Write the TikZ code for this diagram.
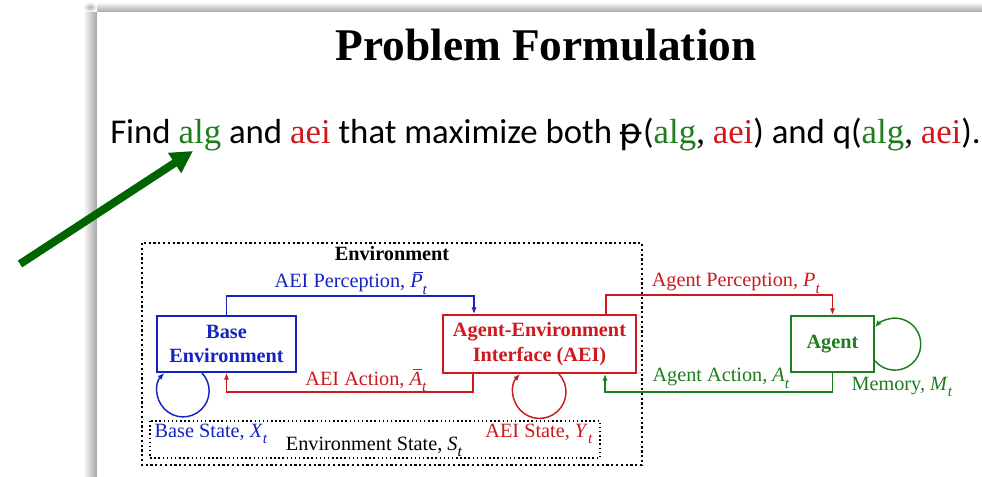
\documentclass[tikz,border=0pt]{standalone}
\usepackage{amsmath}
\usepackage{fontspec}
\setmainfont{Liberation Serif}
\newfontfamily\carlito{Carlito}
\newfontfamily\dejavu{DejaVu Sans}
\usetikzlibrary{arrows.meta,calc}
\definecolor{cblue}{RGB}{20,36,192}
\definecolor{cred}{RGB}{205,25,30}
\definecolor{cgreen}{RGB}{30,125,30}
\definecolor{dgreen}{RGB}{0,100,0}
\newcommand\mv[1]{\textit{#1}}
\newcommand\sbt{\raisebox{-0.3em}{\fontsize{11.5pt}{11.5pt}\selectfont\textit{t}}}
\newcommand\barit[1]{\mbox{\ooalign{\textit{#1}\cr\hidewidth\kern0.18em\rule[0.74em]{0.42em}{0.05em}\hidewidth\cr}}}
\begin{document}
\begin{tikzpicture}[x=0.75pt,y=-0.75pt,
  dfont/.style={font=\fontsize{15.2pt}{18.5pt}\selectfont},
  boxnode/.style={draw, line width=1.5pt, align=center, inner sep=0pt, font=\fontsize{15.2pt}{18.5pt}\selectfont\bfseries},
  conn/.style={line width=1.1pt, -{Latex[length=5pt,width=4pt]}},
  lbl/.style={dfont, anchor=base, inner sep=0pt},
  envbox/.style={dotted, line width=1.6pt},
  statebox/.style={dotted, line width=1.1pt}
]
\useasboundingbox (0,0) rectangle (982,477);
% slide shadow
\shade[left color=white, right color=gray!70] (83,12) rectangle (97,477);
\shade[top color=white, bottom color=gray!70] (97,2) rectangle (982,12);
\shade[inner color=gray!60, outer color=white] (83,2) rectangle (97,12);
\fill[white] (97,12) rectangle (982,477);

% title
\node[anchor=base, inner sep=0pt, font=\fontsize{34pt}{40pt}\selectfont\bfseries] (title) at (546,61) {Problem Formulation};
\node[anchor=base west, inner sep=0pt, font=\carlito\fontsize{26.1pt}{31pt}\selectfont] (goal) at (110,144)
  {Find {\rmfamily\color{cgreen}alg} and {\rmfamily\color{cred}aei} that maximize both {\dejavu ᵽ}({\rmfamily\color{cgreen}alg}{\rmfamily,} {\rmfamily\color{cred}aei}) and q({\rmfamily\color{cgreen}alg}{\rmfamily,} {\rmfamily\color{cred}aei}).};

% big arrow
\coordinate (bgtail) at (20,264);
\coordinate (bgtip) at (193,151);
\draw[dgreen, line width=6pt, -{Triangle[length=16.5pt,width=17pt]}] (bgtail) -- (bgtip);

% environment boxes
\draw[envbox] (142,243) rectangle (642,465);
\draw[statebox] (150,421) rectangle (600,458);
\node[lbl, font=\fontsize{15.2pt}{18.5pt}\selectfont\bfseries] (envlbl) at (392,261) {Environment};

% main boxes
\node[boxnode, cblue, minimum width=104.25pt, minimum height=42pt] (base) at (226.5,344) {Base\\Environment};
\node[boxnode, cred, minimum width=144.75pt, minimum height=43.5pt] (aei) at (539.5,344) {Agent-Environment\\Interface (AEI)};
\node[boxnode, cgreen, minimum width=62.25pt, minimum height=42pt] (agent) at (832.5,344) {Agent};

\coordinate (aeiNl) at ($(aei.north)+(-65.5,0)$);
\coordinate (aeiSl) at ($(aei.south)+(-66.5,0)$);
\coordinate (aeiNr) at ($(aei.north)+(66.5,0)$);
\coordinate (aeiSr) at ($(aei.south)+(65.5,0)$);

% connectors
\draw[conn, cblue] (base.north) -- ++(0,-19) -| (aeiNl);
\draw[conn, cred] (aeiSl) -- ++(0,18) -| (base.south);
\draw[conn, cred] (aeiNr) -- ++(0,-19) -| (agent.north);
\draw[conn, cgreen] (agent.south) -- ++(0,19) -| (aeiSr);

% self loops
\draw[conn, cblue] ($(base.south)+(-24.5,0)$) arc[start angle=-43.5, end angle=223.5, radius=26];
\draw[conn, cred] ($(aei.south)+(19.5,0)$) arc[start angle=-42.6, end angle=222.6, radius=26.5];
\draw[conn, cgreen] ($(agent.east)+(0,17)$) arc[start angle=139.6, end angle=-139.6, radius=26];

% labels
\node[lbl, cblue] (lperc) at (351,288) {AEI Perception, \barit{P}\sbt};
\node[lbl, cred] (lact) at (366,385) {AEI Action, \barit{A}\sbt};
\node[lbl, cred] (laperc) at (736,287) {Agent Perception, \mv{P}\sbt};
\node[lbl, cgreen] (laact) at (721,382) {Agent Action, \mv{A}\sbt};
\node[lbl, cgreen] (lmem) at (902,390) {Memory, \mv{M}\sbt};
\node[lbl, cblue] (lbase) at (211,437) {Base State, \mv{X}\sbt};
\node[lbl] (lenv) at (374,450) {Environment State, \mv{S}\sbt};
\node[lbl, cred] (laei) at (539,437) {AEI State, \mv{Y}\sbt};
\end{tikzpicture}
\end{document}
